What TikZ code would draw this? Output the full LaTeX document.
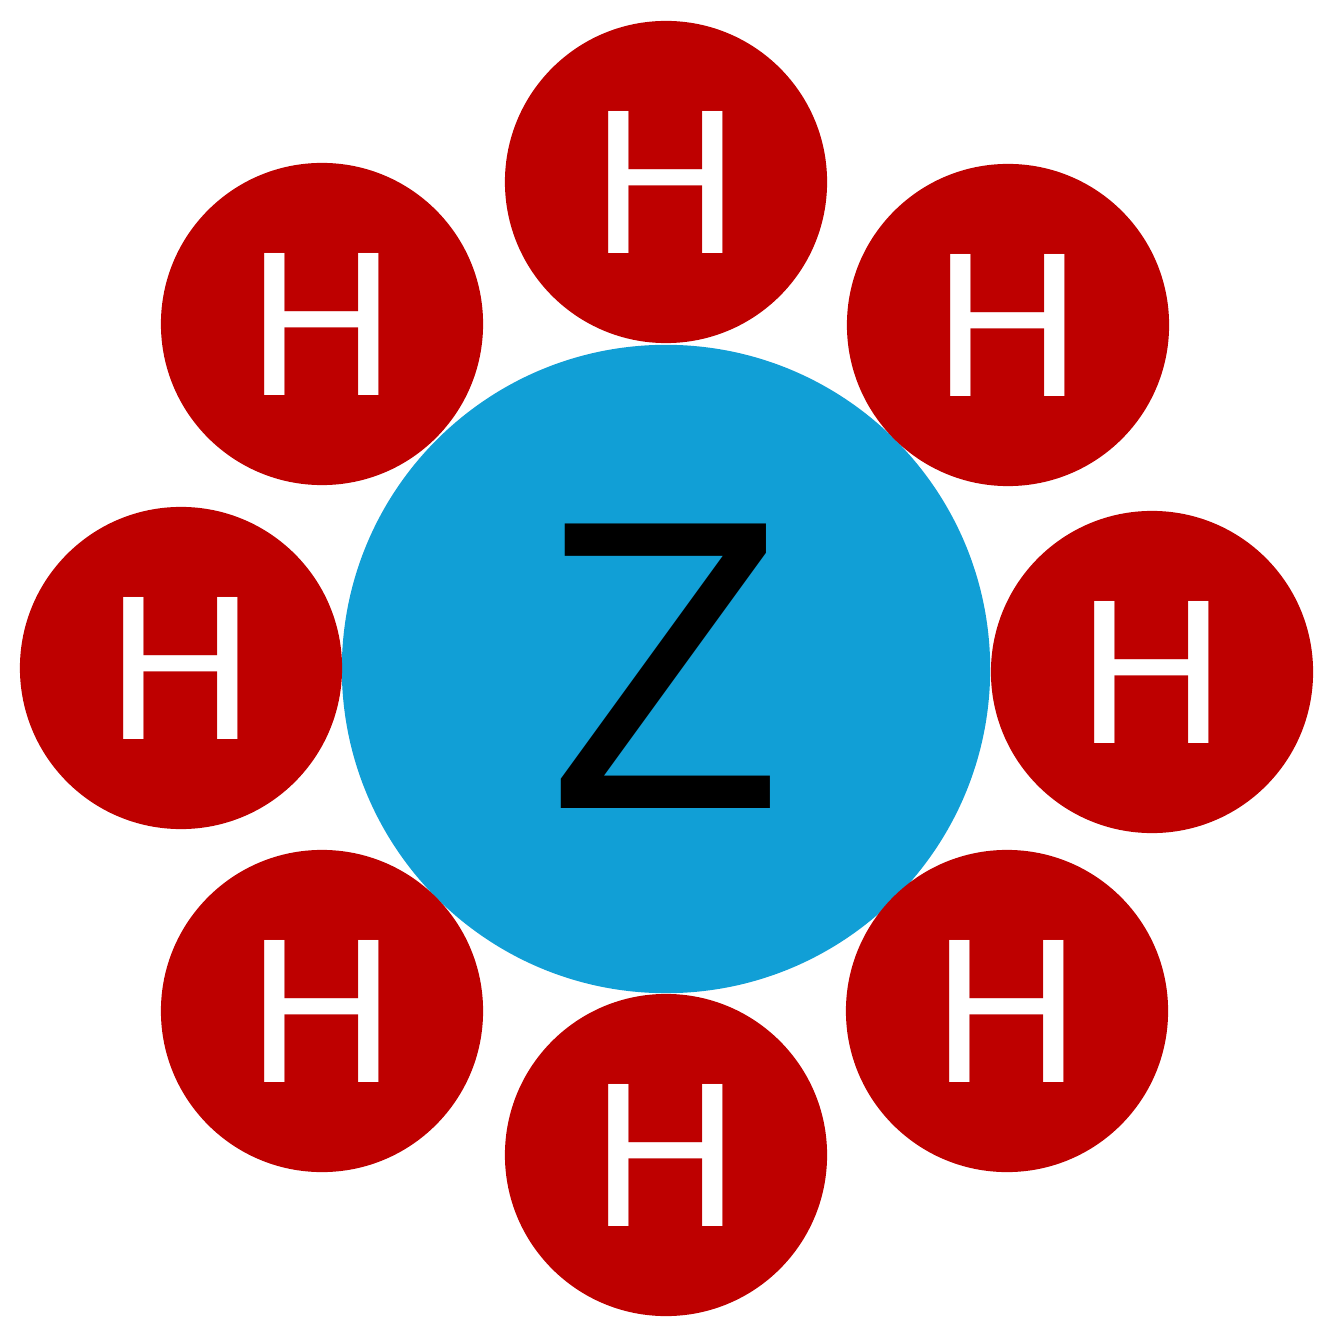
\documentclass[tikz,border=0pt]{standalone}
\usepackage{graphicx}
\usepackage{fontspec}
\newfontfamily\dvsans{DejaVu Sans}
\definecolor{hred}{RGB}{190,0,0}
\definecolor{zblue}{RGB}{17,159,214}
\newcommand{\hlabel}{\scalebox{1.055}[1]{H}}
\newcommand{\zlabel}{\scalebox{0.9}[1]{Z}}
\tikzset{
  hatom/.style={circle, fill=hred, inner sep=0pt, minimum size=3.22cm, text=white,
    font=\dvsans\fontsize{55.4pt}{60pt}\selectfont},
  zatom/.style={circle, fill=zblue, inner sep=0pt, minimum size=6.48cm, text=black,
    font=\dvsans\fontsize{111pt}{120pt}\selectfont}
}
\begin{document}
\begin{tikzpicture}[x=0.01cm,y=-0.01cm]
\useasboundingbox (0,0) rectangle (1340,1340);
\node[zatom] (z) at (666,669) {};
\node (zt) at (666,666) [font=\dvsans\fontsize{111pt}{120pt}\selectfont, inner sep=0pt] {\zlabel};
\node[hatom] (h1) at (666,182) {\hlabel};
\node[hatom] (h2) at (1008,325) {\hlabel};
\node[hatom] (h3) at (1152,672) {\hlabel};
\node[hatom] (h4) at (1007,1011) {\hlabel};
\node[hatom] (h5) at (666,1155) {\hlabel};
\node[hatom] (h6) at (322,1011) {\hlabel};
\node[hatom] (h7) at (181,668) {\hlabel};
\node[hatom] (h8) at (322,324) {\hlabel};
\end{tikzpicture}
\end{document}
